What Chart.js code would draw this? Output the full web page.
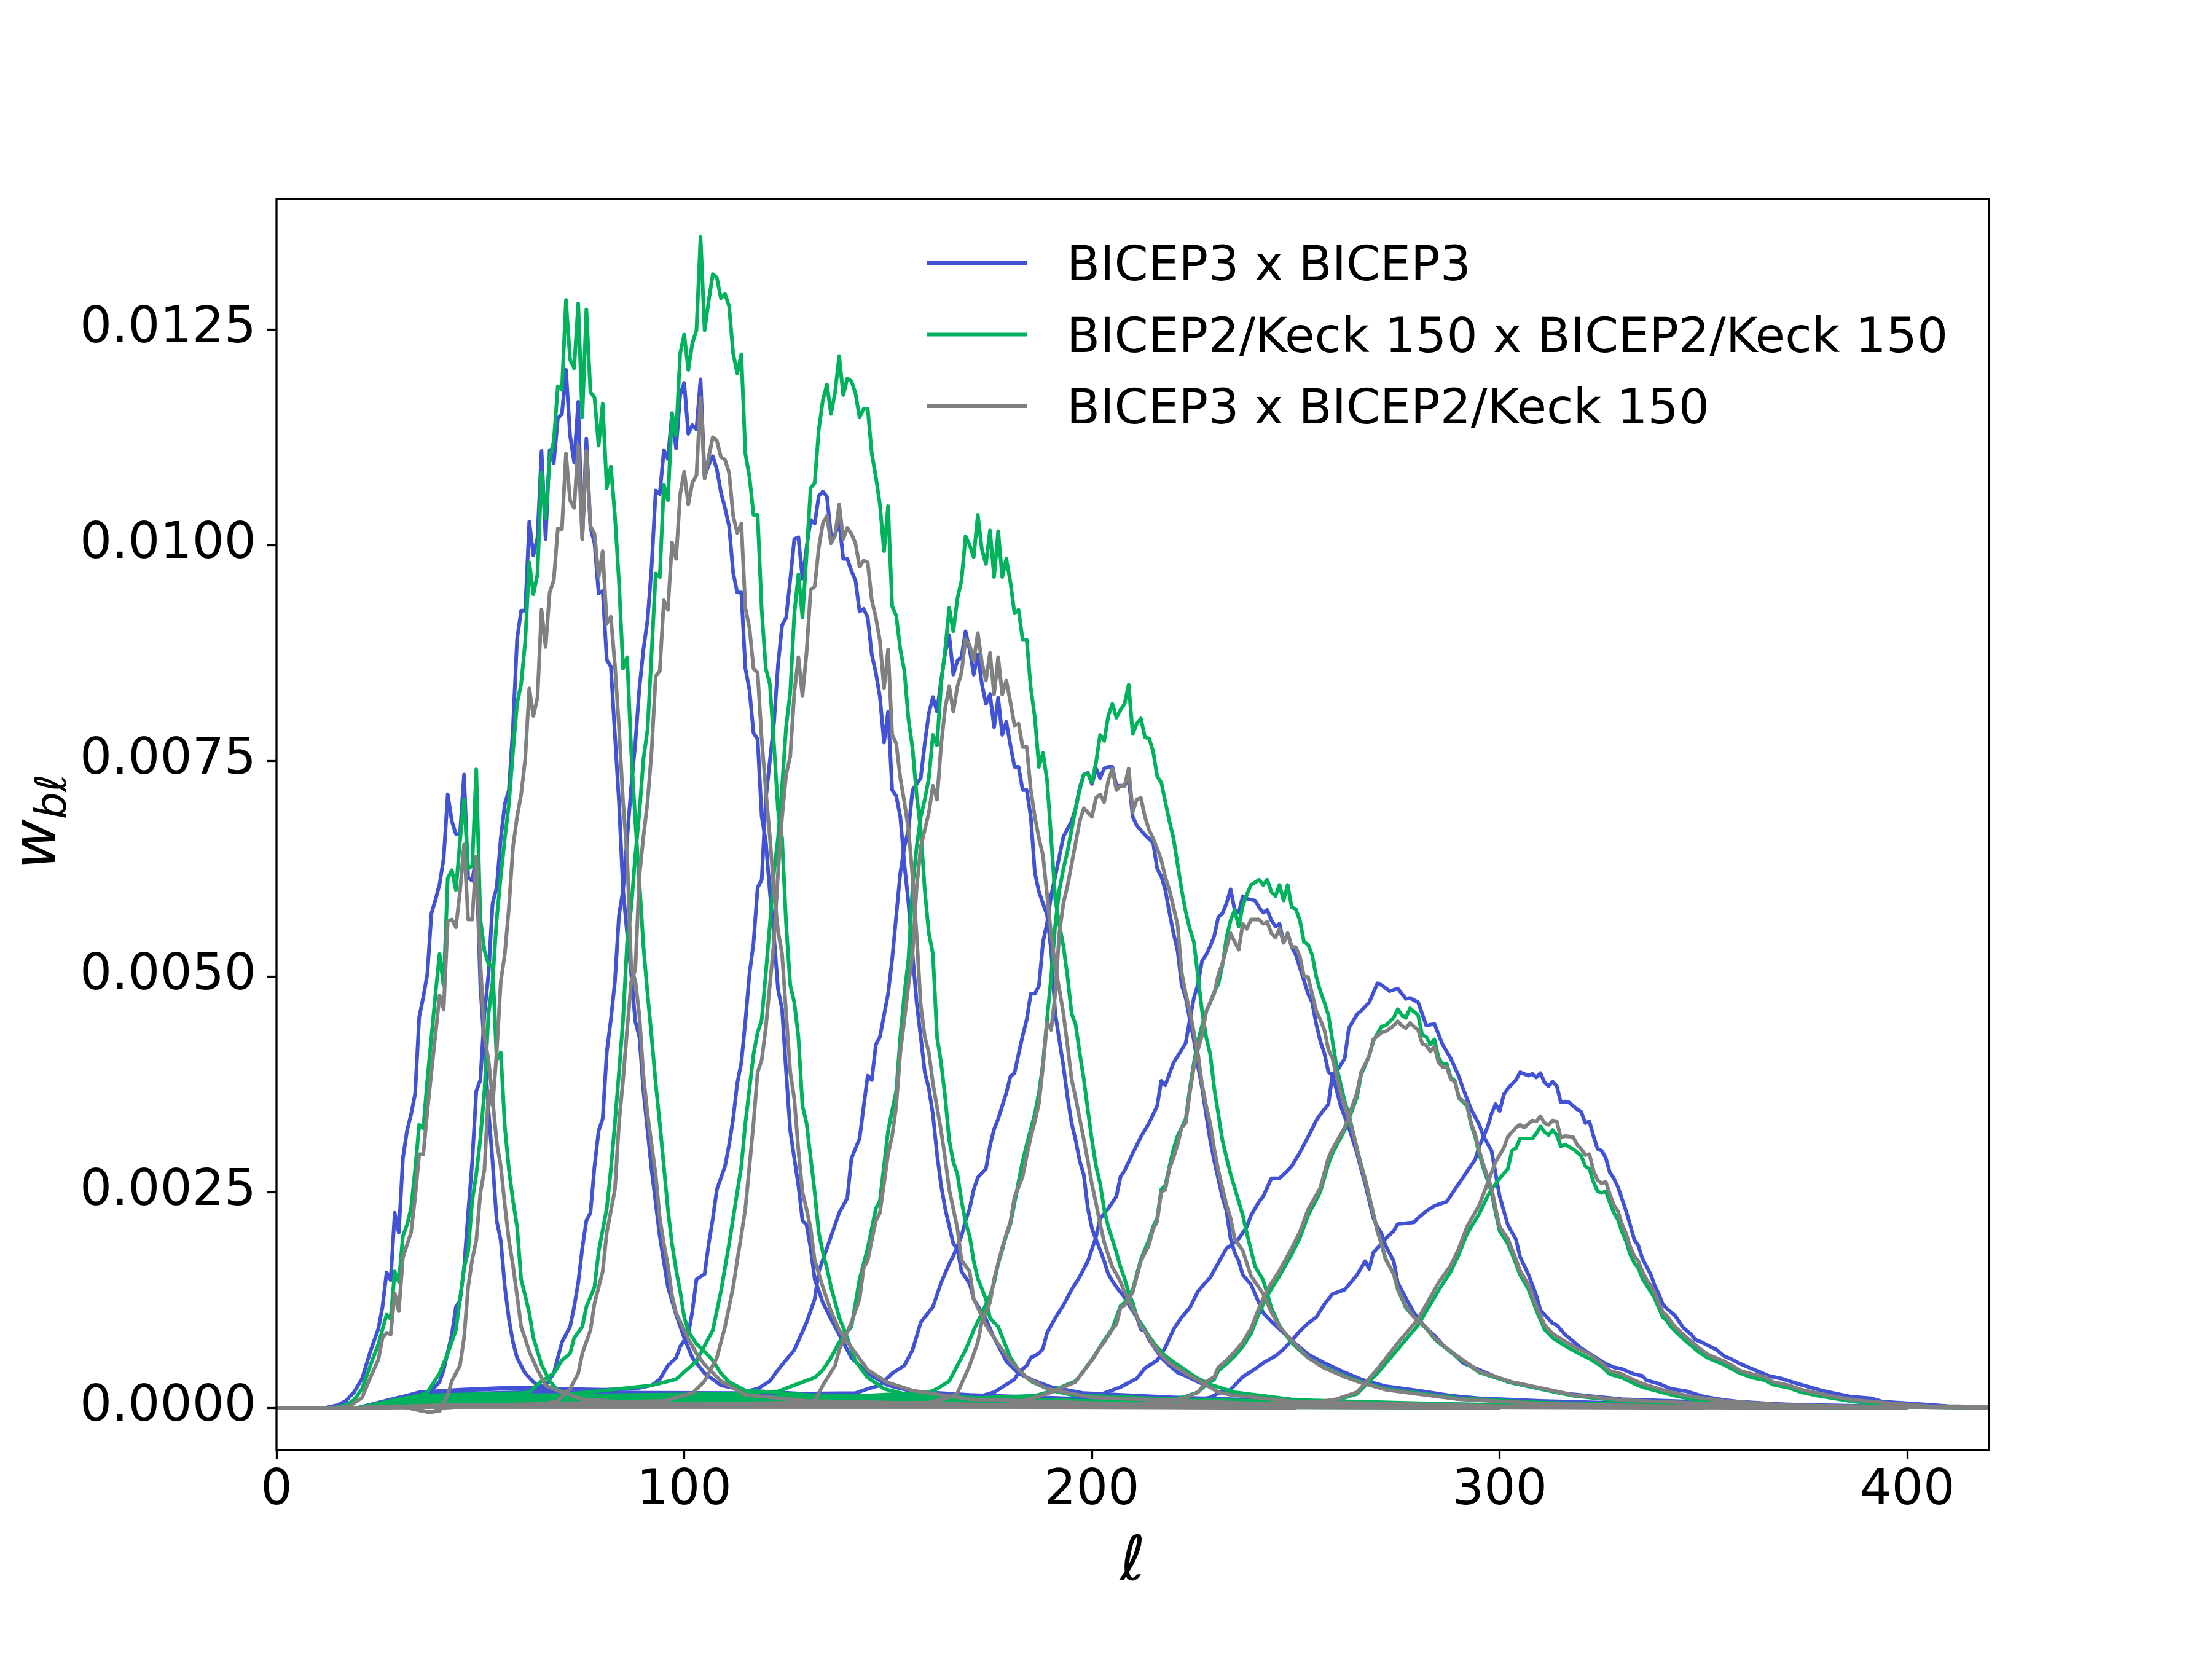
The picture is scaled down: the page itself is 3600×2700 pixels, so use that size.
<!DOCTYPE html>
<html>
<head>
<meta charset="utf-8">
<title>Bandpower window functions</title>
<script src="https://cdn.jsdelivr.net/npm/chart.js@4.4.1/dist/chart.umd.min.js"></script>
<style>
  html, body { margin: 0; padding: 0; background: #fff; }
  canvas { display: block; }
</style>
</head>
<body>
<canvas id="windowChart" width="3600" height="2700"></canvas>
<script>
// Window functions w_bl, in units of 1e-4.
// One list of [ell, w] pairs per ell bin (9 bins) for each spectrum.

// BICEP3 x BICEP3
const b3xb3 = [
  [[0,0],[12,0],[15,0.3],[17,0.8],[19,1.8],[21,3.4],[23,6.5],[25,9.2],[26,11.7],[27,15.7],[28,14.8],[29,22.6],[30,20.3],[31,28.9],[32,32.1],[33,34],[34,36.4],[35,45.3],[36,47.6],[37,50.3],[38,57.3],[39,58.9],[40,60.7],[41,63.7],[42,71.1],[43,68],[44,66.5],[45,66.5],[46,73.4],[47,61.4],[48,61.1],[49,63.9],[50,48.9],[51,41.7],[52,34.4],[53,28.5],[54,21.7],[55,19.4],[56,14],[57,10.3],[58,7.6],[59,5.8],[61,4],[63,3],[65,2.2],[69,1.6],[80,1.2],[100,0.8],[130,0.5],[180,0.2],[250,0]],
  [[0,0],[20,0],[25,0.6],[30,1.2],[35,1.7],[38,2],[40,3],[41,4.4],[43,8.5],[44,11.7],[45,12.4],[46,16.2],[47,22.6],[48,28.5],[49,36.7],[50,38],[51,45.7],[52,50.3],[53,58.5],[54,60.3],[55,66],[56,70],[57,71.6],[58,78.9],[59,89.1],[60,92.4],[61,92.4],[62,102.7],[63,98.8],[64,100.8],[65,110.9],[66,100.7],[67,111],[68,109.5],[69,114.7],[70,115.2],[71,120.3],[72,112.7],[73,109.6],[74,116.6],[75,100.7],[76,112.3],[77,102],[78,100.2],[79,94.4],[80,94.7],[81,86.7],[82,85.9],[83,78],[84,70.2],[85,60],[86,55],[87,50.3],[88,44.8],[89,43],[90,36.7],[92,27.6],[94,19.9],[96,14],[98,10.8],[100,8.1],[102,5.8],[105,4],[109,2.6],[115,2],[130,1.6],[160,1.2],[200,0.8],[250,0.4],[320,0.1],[400,0]],
  [[0,0],[20,0],[28,0.9],[35,1.8],[45,2.1],[55,2.3],[62,2.3],[66,2.6],[68,4],[70,7.6],[72,9.4],[73,11.7],[74,14.5],[75,18.5],[76,21.7],[77,22.6],[78,28],[79,32.1],[80,33.5],[81,41.2],[82,45],[83,49.4],[84,57.1],[85,60],[86,66],[87,72],[88,77],[89,83.4],[90,87.9],[91,91.3],[92,97.5],[93,106.3],[94,105.9],[95,111],[96,110],[97,115.3],[98,111.2],[99,117.4],[100,118.8],[101,112.9],[102,113.9],[103,113.4],[104,119.2],[105,107.9],[106,109.3],[107,110.3],[108,108.8],[109,106.1],[110,104.3],[111,102.2],[112,96.8],[113,94.5],[114,94.5],[115,85.7],[116,83.2],[117,78.2],[118,77.5],[119,68.5],[120,65.7],[121,59.8],[122,54.8],[123,48.5],[124,46.2],[125,38.9],[126,32.1],[127,28.9],[128,25.8],[129,21.7],[130,21.2],[131,18.5],[132,14.9],[134,12.2],[136,10.3],[138,8.5],[141,5.8],[145,4],[150,2.6],[156,1.9],[170,1.5],[200,1],[250,0.5],[320,0.2],[400,0]],
  [[0,0],[20,0],[30,1.1],[40,1.9],[55,2.2],[70,2.2],[80,2.1],[88,2.2],[92,2.6],[94,3.3],[96,4.9],[98,5.8],[99,7.1],[101,8.5],[102,11.2],[103,14.9],[105,15.5],[106,19],[107,21.9],[108,25.3],[110,28],[111,30.5],[112,33.5],[113,37.6],[114,40],[115,44.8],[116,50.3],[117,53.9],[118,60.3],[119,61.2],[120,70.5],[121,75],[122,79.3],[123,86.1],[124,90.7],[125,91.6],[126,96],[127,100.7],[128,100.9],[129,96.1],[130,99.7],[131,102.9],[132,102.5],[133,105.7],[134,106.2],[135,105.6],[136,101.1],[137,101.2],[138,102.7],[139,98.4],[140,98.4],[141,97],[142,95.9],[143,92.3],[144,92.6],[145,91.6],[146,87.3],[147,85.2],[148,82.4],[149,77.1],[150,80.7],[151,71.6],[152,70.9],[153,68.5],[154,63],[155,58.5],[156,52.6],[157,47],[158,43],[159,38.9],[160,37],[161,34],[162,29.4],[163,25.8],[164,23.1],[166,19],[167,18.5],[168,15.8],[170,14.4],[171,12.6],[174,10.3],[176,8.1],[179,5.4],[182,4],[186,3.1],[190,2.4],[198,1.7],[220,1.2],[260,0.6],[320,0.2],[400,0]],
  [[0,0],[20,0],[35,1.5],[60,1.8],[113,1.7],[118,2.2],[121,3.1],[123,4.4],[127,6.7],[130,9.9],[132,12.6],[133,15.8],[135,18.5],[138,22.6],[140,24.3],[141,28.9],[143,31.2],[144,34.9],[145,38.5],[146,38],[147,42.1],[148,43],[150,48],[151,52],[152,57],[153,62],[154,65],[155,67],[156,71.6],[158,73],[159,77],[160,80.5],[161,82.4],[162,80.7],[163,84.3],[164,87.5],[165,89.5],[166,85],[167,86.6],[168,87],[169,90],[170,87.9],[171,85],[172,87.3],[173,83.9],[174,81.6],[175,82.7],[176,78.9],[177,82.3],[178,78],[179,79.5],[180,76.8],[181,74.3],[182,74.3],[183,71.6],[184,71.6],[185,68.5],[186,62],[187,59.8],[189,57.1],[190,53],[191,45.7],[192,42.6],[193,39.6],[194,36],[195,33],[196,31],[197,28.6],[198,27],[199,23.1],[200,20.8],[201,19.5],[202,18.3],[203,17],[204,15.5],[205,14.7],[206,14],[207,13.4],[208,12.8],[209,12],[210,11.2],[211,10.5],[212,9.1],[213,8.9],[214,7.9],[215,7.2],[217,5.8],[219,4.9],[221,4.1],[223,3.7],[226,3],[229,2.4],[231,1.8],[234,1.7],[240,1],[260,0.6],[300,0.3],[400,0]],
  [[0,0],[20,0],[35,1.3],[80,1.5],[120,1.6],[142,1.7],[145,2.2],[148,2.6],[151,4],[154,4.9],[156,6.7],[158,9.9],[161,11.7],[163,14.5],[165,16.7],[166,17.6],[168,19.9],[169,21.7],[170,23.1],[171,25.3],[172,26.7],[174,27.7],[175,30.4],[176,32.3],[177,33.5],[178,35],[179,36.5],[180,38.4],[181,38.8],[182,41],[183,43.1],[184,45],[185,48],[186,48],[187,48.9],[188,54],[189,56.2],[190,59.4],[191,61.6],[193,66.2],[195,68],[196,69.5],[197,71.9],[198,73.4],[199,73.6],[200,72.3],[201,74.1],[202,73],[203,74.1],[204,74.3],[205,74.3],[206,72.1],[207,72.1],[208,72.1],[209,73],[210,68.5],[211,67.5],[213,66.4],[215,65.5],[216,62.5],[217,61.6],[218,60],[219,57.4],[220,55],[221,53],[222,49],[223,47.5],[224,45],[225,42.6],[226,39.6],[227,37.1],[228,34],[229,31],[230,28.6],[231,26.5],[232,24.4],[233,22.8],[234,19.6],[235,18],[236,17],[237,15.4],[239,14.3],[241,12.1],[242,11],[244,10],[249,7.8],[253,6.2],[257,5.2],[262,4.1],[266,3.3],[272,2.5],[280,2],[288,1.4],[295,1.1],[310,0.8],[340,0.4],[400,0]],
  [[0,0],[20,0],[35,1.1],[100,1.3],[150,1.3],[173,1.4],[176,1.8],[178,2.4],[181,3.3],[182,4.1],[184,4.9],[185,5.8],[187,6.3],[188,6.9],[189,8.7],[191,10.4],[193,11.9],[195,13.7],[197,15.2],[199,17],[201,19.8],[202,21.9],[204,23.1],[206,24.5],[207,26.8],[208,27.5],[210,29.5],[212,31.4],[214,33],[216,35],[217,37.9],[218,37.4],[220,40],[222,41.5],[223,42.3],[224,45],[225,47.5],[226,49.1],[227,51.8],[228,52.5],[229,53.5],[230,54.7],[231,56.9],[232,57.3],[233,58.5],[234,60.1],[235,57.7],[236,57.4],[237,59.3],[238,59],[239,58.9],[240,58.8],[241,58],[242,57.4],[243,57.7],[244,56.5],[245,55.8],[246,56.1],[247,53.9],[248,55],[249,53.4],[250,52.5],[251,51],[252,49.5],[253,48],[254,47],[255,44.5],[256,42.5],[257,41.1],[258,38.9],[259,38.6],[260,36.8],[261,35],[262,33.7],[263,32.5],[264,31],[265,29.5],[266,27.7],[267,26],[268,24],[269,22],[270,21],[271,20.2],[272,18.8],[274,17],[275,14.5],[277,12.7],[279,11],[282,9.2],[284,8.4],[286,7.3],[289,6.1],[291,5.2],[294,4.6],[298,3.8],[302,3],[307,2.5],[315,1.7],[330,1],[360,0.5],[400,0.1]],
  [[0,0],[20,0],[35,0.9],[100,1],[180,1],[198,0.9],[203,1.7],[207,2.4],[211,3.4],[213,4.6],[216,5.5],[218,7],[220,9.1],[222,10.5],[224,11.6],[226,13.5],[228,14.6],[229,15.1],[231,16.8],[233,18.5],[234,18.8],[236,19.6],[238,21],[239,22.3],[241,23.9],[242,24.5],[244,26.6],[246,26.6],[248,27.5],[249,28],[251,29.6],[253,31.4],[255,33.3],[256,34],[258,35.2],[259,38.7],[260,39],[262,40.5],[263,44],[265,45.6],[266,46],[268,47],[270,49.2],[271,49],[273,48.3],[275,48.6],[277,47.4],[278,47.5],[280,47],[282,44.3],[284,44.5],[286,42.1],[288,40.5],[290,38.4],[291,37],[293,34.6],[295,32.8],[296,31.5],[298,29.8],[300,24.5],[302,21.2],[304,19.5],[305,17.5],[307,15.5],[309,13],[310,11.3],[313,9.8],[314,9.6],[316,8.5],[318,7.7],[320,6.9],[323,6],[326,5.1],[328,4.7],[330,4.5],[333,3.9],[335,3.7],[336,3.2],[339,2.8],[342,2.2],[346,1.9],[350,1.3],[355,0.9],[359,0.7],[366,0.5],[373,0.3],[385,0.2],[420,0.1]],
  [[0,0],[20,0],[35,0.7],[100,0.8],[200,0.6],[218,0.6],[224,0.8],[229,1.2],[231,1.7],[234,2.1],[237,3.6],[240,4.5],[242,5.2],[245,6],[247,6.8],[249,7.8],[251,8.9],[253,9.8],[255,10.5],[257,12],[259,13.2],[262,13.7],[265,15.4],[267,17],[268,16.1],[269,18],[271,19],[272,19.6],[274,20.5],[275,21.3],[277,21.4],[279,21.5],[280,22],[282,22.8],[284,23.4],[287,23.9],[290,26],[292,27.4],[294,28.8],[295,30.3],[297,32.5],[298,34.1],[299,35.2],[300,34.4],[301,36.3],[302,37],[304,38],[305,38.9],[307,38.5],[308,38.7],[309,38.3],[310,38.8],[311,37.7],[312,37.3],[313,37.8],[314,37.3],[315,35.4],[316,35.5],[317,35.4],[318,35],[319,34.6],[320,34.3],[321,33],[322,33.2],[323,31.5],[324,30],[325,29.8],[326,29],[327,27.3],[328,26.6],[329,25.6],[330,24.2],[331,22.8],[332,21.2],[333,19.5],[334,18.8],[335,17.3],[336,16.4],[337,15.5],[338,14.2],[339,13.2],[340,12],[341,11.5],[342,11.1],[343,10.7],[344,10],[345,9.3],[347,8.5],[348,7.9],[350,7.5],[352,7],[353,6.8],[355,6],[357,5.6],[359,5.1],[361,4.7],[364,4.1],[366,3.7],[369,3.4],[373,2.8],[376,2.4],[379,2],[382,1.7],[386,1.3],[391,1.1],[394,0.7],[401,0.5],[410,0.2],[420,0.1]]
];

// BICEP2/Keck 150 x BICEP2/Keck 150
const bkxbk = [
  [[0,0],[14,0],[17,0.3],[19,0.9],[21,2.2],[23,4.9],[25,7.4],[27,10.8],[28,10.3],[29,15.8],[30,14.6],[31,19.9],[32,21.2],[33,23.1],[34,27.6],[35,32.8],[36,32.4],[37,38],[38,43],[39,48],[40,52.6],[41,48.9],[42,61.4],[43,62.3],[44,60],[45,65.7],[46,70.5],[47,62.5],[48,62.8],[49,74],[50,56.6],[51,53],[52,51.4],[53,51.2],[54,40.3],[55,41.2],[56,32.6],[57,27.6],[58,24],[59,21],[60,14.9],[61,13],[62,11],[63,8.1],[65,5],[67,3.1],[69,2],[75,1.3],[90,0.9],[120,0.6],[160,0.3],[220,0.1],[300,0]],
  [[0,0],[20,0],[25,0.5],[30,1],[35,1.4],[37,1.8],[40,4],[42,6.3],[44,9],[45,12.6],[46,16.2],[47,18.1],[48,24],[49,27.1],[50,31.2],[51,36.7],[52,45.7],[53,49.4],[54,56.6],[55,61.6],[56,66],[57,70],[58,76.1],[59,81.6],[60,83.9],[61,88.8],[62,98],[63,94.3],[64,96.6],[65,108.4],[66,103.1],[67,110.2],[68,112],[69,118.4],[70,118],[71,128.4],[72,121.5],[73,120.5],[74,128],[75,114.8],[76,127.3],[77,117.7],[78,117.1],[79,111.5],[80,116.4],[81,106.6],[82,109.1],[83,103.4],[84,95.7],[85,85.7],[86,87],[87,76.1],[88,68],[89,61],[90,53.5],[91,48],[92,43],[93,37.6],[94,33],[95,28],[96,23],[97,19],[98,16],[99,13.5],[100,10.5],[101,8.9],[103,7.4],[105,6.5],[107,5.5],[109,4],[111,3],[115,2],[130,1.5],[160,1.1],[200,0.7],[260,0.3],[330,0.1],[400,0]],
  [[0,0],[20,0],[28,0.7],[35,1.4],[50,1.6],[60,1.7],[62,1.8],[65,3.1],[68,4],[70,5.5],[72,6.3],[73,8.1],[75,9.4],[76,11.7],[78,14],[79,18.1],[81,23.1],[82,27.6],[83,33],[84,38.9],[85,45],[86,54],[87,58],[88,64],[89,69],[90,75.2],[91,78.6],[92,87.5],[93,96.7],[94,96.3],[95,107],[96,105.2],[97,115.2],[98,112.7],[99,122.2],[100,124.4],[101,120.3],[102,123.4],[103,124.9],[104,135.7],[105,124.9],[106,128.3],[107,131.4],[108,131],[109,128.6],[110,129.1],[111,127.7],[112,122.2],[113,119.9],[114,122.1],[115,110.6],[116,107.9],[117,103.5],[118,103.5],[119,92.5],[120,85.7],[121,83.9],[122,77],[123,69.3],[124,66],[125,56],[126,49],[127,47],[128,43],[129,35],[130,33],[131,29],[132,25],[133,20.3],[134,18],[135,16.2],[136,14],[138,10.5],[140,8.1],[142,5.4],[145,3.5],[149,2.2],[155,1.5],[180,1],[230,0.5],[300,0.2],[400,0]],
  [[0,0],[20,0],[30,0.7],[45,1.4],[70,1.5],[92,2.6],[98,3.3],[103,5.4],[107,9],[109,13.5],[111,19],[112,22],[113,25],[114,28],[115,33],[116,37],[117,41],[118,43.5],[119,45],[120,50.3],[121,56],[122,62],[123,66],[124,72],[125,79],[126,82.9],[127,92],[128,96.6],[129,91.6],[130,98.8],[131,106.6],[132,107.2],[133,113.4],[134,116.8],[135,118.6],[136,115.2],[137,117.7],[138,121.9],[139,117.4],[140,119.3],[141,119],[142,117.6],[143,114.8],[144,115.8],[145,115.8],[146,110.6],[147,107.9],[148,104.7],[149,99.3],[150,104.5],[151,92.9],[152,91.8],[153,87.9],[154,85.4],[155,79.8],[156,76.4],[157,71],[158,67],[159,60],[160,55],[161,52.6],[162,43],[163,40],[164,36],[165,31],[166,28.5],[167,27.1],[168,24],[169,21.5],[170,19.9],[171,17],[172,15],[174,12.6],[175,10.4],[177,9.4],[180,5.8],[182,4.4],[185,3.1],[190,2],[195,1.5],[220,1],[270,0.5],[330,0.2],[400,0]],
  [[0,0],[20,0],[35,1.1],[70,1.4],[110,1.6],[123,1.9],[128,2.8],[132,3.5],[134,4.4],[136,5.8],[138,7.6],[141,9.4],[142,12.1],[143,14.9],[145,18.5],[147,23.1],[148,24],[150,32.1],[151,34.5],[152,36.7],[153,43],[154,48],[155,52],[156,60.3],[157,65],[158,68.5],[159,70.5],[160,73],[161,78],[162,76.8],[163,83.9],[164,87.9],[165,92.7],[166,90],[167,93.8],[168,95.9],[169,101],[170,100],[171,98.6],[172,103.5],[173,99.5],[174,97.8],[175,101.7],[176,96.3],[177,101.6],[178,96.3],[179,98.4],[180,95.7],[181,92.1],[182,92.5],[183,89],[184,89],[185,83.4],[186,80],[187,74.3],[188,75.9],[189,72.7],[190,66],[191,59],[192,56],[193,53.5],[194,50],[195,45.7],[196,44.4],[197,41.1],[198,38.1],[199,34.5],[200,31],[201,28],[202,26],[203,23],[204,21],[205,19.5],[206,18],[207,16.3],[208,15],[209,13.3],[210,12.2],[211,10.5],[213,9.1],[214,8.3],[216,7],[218,6],[220,5.3],[222,4.7],[224,4],[226,3.4],[229,2.7],[235,1.8],[250,0.9],[290,0.4],[400,0]],
  [[0,0],[20,0],[35,1],[90,1.2],[140,1.3],[160,1.8],[162,2.2],[165,3.1],[167,4.9],[169,6.7],[171,9],[173,11],[175,13],[176,14.5],[177,16.7],[178,18.3],[179,20],[180,21.3],[181,23.7],[182,26.2],[183,28.6],[184,30.5],[185,32.3],[186,34.1],[187,36.5],[188,40],[189,45.1],[190,50],[191,56],[192,60],[193,62.5],[194,64.5],[195,67],[196,69.5],[197,71.6],[198,73.4],[199,73.5],[200,72.5],[201,74.8],[202,78],[203,77.3],[204,80.2],[205,81.6],[206,80],[207,80.9],[208,81.6],[209,83.8],[210,78.1],[211,79.3],[212,79.9],[213,77.7],[214,77.6],[215,76.1],[216,73.2],[217,72.5],[218,70.2],[219,68],[220,66],[221,63],[222,60],[223,57.5],[224,55.5],[225,54],[226,50],[227,46],[228,43],[229,41],[230,37],[231,34],[232,31],[233,29],[234,27.1],[235,25.5],[237,22.3],[238,20.2],[240,16.4],[242,14.8],[244,11.6],[246,9.5],[249,7.5],[253,5.8],[257,4.7],[262,3.7],[266,3],[272,2.2],[280,1.7],[290,1.1],[310,0.6],[340,0.3],[400,0]],
  [[0,0],[20,0],[35,0.9],[100,1.1],[170,1.1],[186,1.4],[190,1.9],[193,2.5],[196,3.1],[198,4.3],[200,5.6],[202,7.1],[203,7.8],[205,9.2],[207,11.8],[208,12.2],[210,13.7],[211,15.5],[212,17.2],[214,19.5],[215,21],[216,22],[217,25.3],[218,25.8],[219,28],[220,30],[221,31.5],[222,32.5],[223,33.5],[224,37],[225,40],[226,42.5],[227,44.3],[228,45.9],[229,47],[230,48.2],[231,49.1],[232,51.3],[233,54.5],[234,56.5],[235,57.7],[236,55.8],[237,58.2],[238,59.5],[239,60.6],[240,60.9],[241,61.2],[242,60.6],[243,61.2],[244,59.8],[245,59.3],[246,60.6],[247,58.8],[248,60.6],[249,58],[250,57.8],[251,56.5],[252,54],[253,53.7],[254,52.5],[255,50],[256,48.3],[257,47],[258,45.5],[259,42.5],[260,39.5],[261,37.5],[262,35.5],[263,34],[264,32],[265,30],[266,28.2],[267,26.5],[268,24.5],[269,22.5],[270,20.5],[271,19],[272,17.3],[274,15.5],[275,13.7],[277,11.6],[279,10.5],[282,9.2],[284,8],[286,7.2],[289,6.1],[292,5.1],[295,4.1],[299,3.5],[303,2.9],[311,2.1],[318,1.4],[330,0.8],[360,0.3],[400,0]],
  [[0,0],[20,0],[35,0.7],[150,0.8],[200,0.7],[218,0.8],[223,1.3],[226,1.8],[228,2.7],[230,3.3],[231,4.3],[233,5.1],[235,6],[237,7.1],[239,8.6],[241,11],[243,13],[246,15.3],[249,17.8],[251,19.7],[253,22.3],[254,23.2],[256,25],[258,28.3],[259,29.5],[262,32.2],[265,36],[266,38.6],[268,40.8],[269,42.5],[271,44.2],[272,44.3],[274,45.2],[275,46.2],[276,45.5],[277,45.2],[278,46.3],[280,45.5],[281,43.2],[282,43],[283,42.1],[284,42.7],[285,40.6],[286,39.8],[287,39.9],[288,38.3],[289,37.9],[290,35.9],[292,35],[293,32.8],[294,31.4],[295,29.4],[296,27.8],[298,25],[299,22.6],[300,20.5],[302,19],[304,16.7],[305,15.4],[307,13.8],[309,11.3],[311,9.1],[313,8.1],[316,7.2],[319,6.4],[322,5.7],[325,4.8],[327,3.9],[330,3.5],[333,2.8],[335,2.4],[339,1.9],[343,1.4],[347,1],[355,0.6],[370,0.2],[400,0.1],[420,0]],
  [[0,0],[20,0],[35,0.6],[150,0.7],[220,0.6],[250,0.4],[260,0.9],[265,1.6],[270,4],[275,6.8],[280,9.6],[285,13.6],[288,15.8],[290,17.8],[292,20.2],[295,22.5],[297,24.5],[298,25.3],[300,26.6],[302,27.7],[303,29.8],[304,30.1],[305,31.2],[307,31.2],[308,31.2],[309,31.8],[310,32.6],[311,32],[312,31.6],[313,32.2],[314,31.6],[315,30.3],[316,30.5],[318,30],[319,29.6],[320,29.2],[321,28],[322,27.7],[323,26.2],[324,25.1],[325,24.9],[326,25.1],[327,23.8],[328,22.6],[329,21.8],[330,20.4],[331,19.3],[332,17.8],[333,16.8],[334,16.2],[335,15],[336,14.2],[337,13.5],[338,12.7],[339,11.6],[340,10.5],[341,10.1],[342,9.4],[343,8.9],[345,8],[346,7.6],[348,6.8],[349,6.4],[351,5.8],[353,5.4],[355,5],[357,4.5],[359,4],[362,3.5],[365,3.2],[367,2.7],[371,2.3],[374,1.8],[378,1.4],[382,1.1],[387,0.7],[394,0.4],[405,0.1],[420,0]]
];

// BICEP3 x BICEP2/Keck 150
const b3xbk = [
  [[0,0],[15,0],[18,0.2],[21,1.2],[23,3.5],[25,5.6],[26,8.1],[27,8.7],[28,8.5],[29,13.3],[30,11.2],[31,17.4],[32,18.9],[33,20.3],[34,24.4],[35,29.4],[36,29.4],[37,34.4],[38,38.9],[39,43.3],[40,47.8],[41,46.2],[42,56.4],[43,56.6],[44,55.7],[45,59.8],[46,65.3],[47,56.6],[48,56.6],[49,63.9],[50,51.6],[51,43],[52,40.3],[53,35.8],[54,30.8],[55,28],[56,23.5],[57,19.4],[58,16.5],[59,13],[60,9.4],[61,8],[62,6.5],[64,4.4],[66,2.6],[69,2],[75,1],[90,0.5],[120,0.3],[180,0.1],[250,0]],
  [[0,0],[20,0],[30,0.2],[33,0],[37,-0.5],[40,-0.4],[42,1.5],[43,3.1],[45,4.9],[46,8.1],[47,14],[48,17.2],[49,19.4],[50,24.9],[51,27.6],[52,36.7],[53,35],[54,41.2],[55,49.4],[56,52.6],[57,58],[58,65],[59,68.5],[60,71.1],[61,75.2],[62,83.4],[63,80.2],[64,82.3],[65,92.5],[66,88.2],[67,94.5],[68,95.9],[69,101.9],[70,101.8],[71,110.6],[72,105.2],[73,104.3],[74,111.5],[75,100.7],[76,110.9],[77,102.2],[78,101.3],[79,96.3],[80,99.3],[81,90.9],[82,91.7],[83,86.1],[84,78.9],[85,70.2],[86,64],[87,51],[88,49.5],[89,45.5],[90,38.5],[91,34],[92,30.5],[93,27],[94,22],[95,19],[96,16.5],[97,13],[98,11],[99,10],[101,8],[103,6.3],[105,5],[109,3.1],[115,1.5],[130,0.8],[170,0.4],[230,0.1],[300,0]],
  [[0,0],[20,0],[30,0.2],[35,-0.3],[38,-0.5],[41,0],[50,0.3],[65,0.4],[69,0.8],[72,2.2],[74,4],[75,6.3],[77,9],[78,12.1],[80,15.8],[81,20.3],[83,25.3],[84,33],[85,38],[86,43.9],[87,49.4],[88,50.8],[89,61.6],[90,66.2],[91,70.2],[92,76.1],[93,84.8],[94,85.4],[95,93.6],[96,92.5],[97,100.3],[98,98.4],[99,105.9],[100,108.5],[101,104.7],[102,107.2],[103,108.1],[104,117.1],[105,107.7],[106,110.2],[107,112.5],[108,112.1],[109,110.2],[110,109.9],[111,108.4],[112,103.4],[113,101.4],[114,102.5],[115,92.7],[116,90.4],[117,85.7],[118,85.2],[119,77.5],[120,71.6],[121,66.2],[122,60],[123,55.3],[124,52.6],[125,45.7],[126,38.9],[127,35.8],[128,29.9],[129,25],[130,23],[131,20.8],[132,17.1],[134,14],[136,11.2],[138,9],[141,7],[145,4.4],[150,2.9],[156,2],[170,1],[210,0.4],[280,0.1],[350,0]],
  [[0,0],[20,0],[35,0.2],[60,0.4],[95,0.8],[102,1.7],[105,3.1],[108,5.8],[110,9.4],[112,14],[113,17.1],[114,20],[115,23.1],[117,33],[118,38.9],[119,40.3],[120,44],[121,49],[122,54],[123,62],[124,68.5],[125,73.4],[126,75.5],[127,82.9],[128,87],[129,82.5],[130,87.5],[131,94.8],[132,95.2],[133,99.7],[134,102.5],[135,103.4],[136,100.2],[137,101.1],[138,104.7],[139,100.7],[140,102],[141,101.3],[142,100.2],[143,97.5],[144,98.2],[145,98],[146,93.6],[147,91.6],[148,88.9],[149,83.4],[150,87.9],[151,78],[152,77],[153,73],[154,70.2],[155,67],[156,61.6],[157,54.8],[158,46.7],[159,43],[160,41.2],[161,37.6],[163,32.1],[164,28.9],[165,25.3],[167,20.8],[168,17.1],[170,15.8],[171,12.6],[174,9.6],[177,7.4],[180,5.4],[184,3.5],[189,2.2],[200,1.2],[240,0.5],[300,0.1],[380,0]],
  [[0,0],[20,0],[40,0.3],[100,0.4],[128,0.6],[132,0.8],[134,2.6],[137,4.9],[138,6.7],[141,9.9],[143,12.6],[144,16.2],[145,17.1],[147,21.7],[148,22.6],[150,29.4],[151,31.5],[152,35],[153,41.2],[154,45],[155,49],[156,52.6],[157,60.3],[158,65],[159,67],[160,69],[161,72.1],[162,70.5],[163,76.8],[164,81.1],[165,83.6],[166,80.7],[167,83.6],[168,85.2],[169,89.1],[170,88.4],[171,86.6],[172,89.8],[173,86.4],[174,84.3],[175,87.5],[176,82.7],[177,87],[178,82.7],[179,84.3],[180,81.8],[181,79.1],[182,79.3],[183,76.6],[184,76.6],[185,71.6],[186,68.5],[187,66],[188,64],[189,59.4],[190,54.8],[191,51.2],[192,48.5],[193,45.7],[194,42],[195,38.1],[196,35.9],[197,33.5],[198,31.1],[199,28.6],[200,25.9],[201,23.7],[202,21.3],[203,19.2],[204,17.7],[205,16.3],[206,15.5],[207,14.6],[208,13.4],[209,12.6],[210,11.4],[211,10.7],[212,9.4],[213,8.9],[215,7.3],[217,6.1],[219,5.2],[221,4.6],[223,4],[226,3.2],[229,2.4],[231,1.8],[234,1.5],[250,0.7],[300,0.2],[400,0]],
  [[0,0],[20,0],[40,0.2],[120,0.3],[160,0.6],[165,1.2],[167,1.7],[170,4.9],[172,7.6],[173,10],[175,12.2],[176,14.9],[178,18.6],[180,21.6],[181,24.4],[183,26.8],[184,29.2],[185,31.4],[186,33.2],[187,35.3],[188,39.6],[189,44.7],[190,43.8],[191,48],[192,55],[193,58.5],[194,60.5],[195,63],[196,65.5],[197,68],[198,69.5],[199,69],[200,68.5],[201,70.7],[202,71.1],[203,70.2],[204,72.7],[205,74.1],[206,71.6],[207,72.1],[208,72.1],[209,74.1],[210,69.1],[211,70.5],[212,70.7],[213,68.5],[214,67],[215,66],[216,64.8],[217,63.5],[218,61.5],[219,60],[220,58],[221,56],[222,50.5],[223,48],[224,46],[225,43.5],[226,41],[227,37.5],[228,35],[229,33],[230,30],[231,27.5],[232,25.5],[233,23.5],[234,22],[235,19.6],[237,18.2],[239,15.3],[242,13.2],[244,11.1],[246,9.4],[249,7.8],[253,5.8],[257,4.6],[262,3.6],[266,2.9],[272,2.1],[280,1.6],[290,1],[310,0.5],[340,0.2],[400,0]],
  [[0,0],[20,0],[40,0.1],[150,0.2],[180,0.4],[186,1.2],[190,1.8],[193,2.4],[196,3],[198,4.3],[200,5.5],[202,7],[203,7.6],[205,9.1],[206,9.7],[207,11.6],[208,11.9],[210,13.4],[211,15.2],[212,17],[214,18.9],[215,20.7],[216,21.6],[217,25],[218,25.3],[219,27.7],[220,29],[221,30.5],[222,32.5],[223,33],[224,36.5],[225,39.5],[226,41.5],[227,43.2],[228,45.9],[229,47],[230,48],[231,50.2],[232,51.5],[233,53.3],[234,55],[235,54],[236,53.1],[237,56.1],[238,55.5],[239,56.6],[240,56.6],[241,56.6],[242,56.1],[243,56.3],[244,55],[245,54.5],[246,55.5],[247,53.9],[248,55],[249,53.4],[250,53.4],[251,52.3],[252,50],[253,49.9],[254,48],[255,46],[256,45],[257,43.8],[258,41.5],[259,40.5],[260,38.4],[261,36.5],[262,35],[263,33.6],[264,32],[265,30],[266,28],[267,26.5],[268,24.5],[269,22.5],[270,20.5],[271,19],[272,17.2],[274,15.6],[275,13.8],[277,11.8],[279,10.5],[282,9.3],[284,8.1],[286,7.3],[289,6.2],[292,5.2],[295,4.2],[299,3.6],[303,3],[311,2.2],[318,1.5],[330,0.9],[360,0.3],[400,0]],
  [[0,0],[20,0],[40,0.1],[200,0.1],[218,0.6],[223,1.2],[226,1.8],[228,3],[230,3.6],[231,4.7],[233,5.5],[235,6.5],[237,7.6],[239,9.2],[241,11.6],[243,13.7],[246,15.9],[249,18.5],[251,20.4],[253,23],[254,23.8],[256,25.5],[258,29],[259,30],[262,32.5],[265,36.5],[266,38.9],[268,40.8],[269,42.7],[271,43.5],[272,43.6],[274,44.3],[275,44.8],[276,44.3],[277,44],[278,44.6],[280,43.8],[281,42.2],[282,42],[283,41.3],[284,41.9],[285,40],[286,39.5],[287,39.5],[288,38.1],[289,37.8],[290,36],[292,35.2],[293,33],[294,31.7],[295,29.8],[296,28.2],[298,25.5],[299,23.1],[300,21],[302,19.6],[304,17.2],[305,15.9],[307,14.3],[309,11.8],[311,9.6],[313,8.6],[316,7.7],[319,6.9],[322,6.2],[325,5.2],[327,4.3],[330,3.9],[333,3.2],[335,2.8],[339,2.2],[343,1.7],[347,1.3],[355,0.8],[370,0.3],[400,0.1],[420,0]],
  [[0,0],[20,0],[40,0.1],[240,0.1],[250,0.3],[260,1],[265,1.8],[270,4.5],[275,7.5],[280,10.3],[285,14.5],[288,16.5],[290,18.5],[292,21],[295,23.5],[297,26],[299,28.5],[301,30.1],[302,31.4],[304,32.5],[305,32.8],[306,32.5],[308,33.3],[309,33.2],[310,33.8],[311,33],[312,32.8],[313,33.3],[314,33.2],[315,31.3],[316,31.5],[318,31.4],[319,30.5],[320,30],[321,29.3],[322,29.4],[323,27.5],[324,26.4],[325,26],[326,26.2],[327,24.8],[328,23.5],[329,22.8],[330,21.3],[331,20.2],[332,18.7],[333,17.6],[334,17],[335,15.8],[336,14.9],[337,14.2],[338,13.4],[339,12.2],[340,11.1],[341,10.7],[342,10],[343,9.4],[345,8.5],[346,8.1],[348,7.3],[349,6.9],[351,6.2],[353,5.8],[355,5.4],[357,4.9],[359,4.3],[362,3.9],[365,3.6],[367,3],[371,2.6],[374,2.1],[378,1.7],[382,1.3],[387,0.9],[394,0.6],[405,0.2],[420,0.1]]
];

const seriesNames = ['BICEP3 x BICEP3', 'BICEP2/Keck 150 x BICEP2/Keck 150', 'BICEP3 x BICEP2/Keck 150'];
const xTicks = [0, 100, 200, 300, 400];
const yTicks = [0, 0.0025, 0.005, 0.0075, 0.01, 0.0125];
const wUnit = 1e-4;

const colors = ['#4152d5', '#00b25c', '#808080'];
const fontFamily = "'DejaVu Sans', sans-serif";

// one line per (spectrum, bin); gray is drawn on top, blue at the bottom
const datasets = [];
[b3xb3, bkxbk, b3xbk].forEach((bins, s) => {
    bins.forEach(bin => {
        datasets.push({
            label: seriesNames[s],
            data: bin.map(p => ({ x: p[0], y: p[1] * wUnit })),
            borderColor: colors[s],
            borderWidth: 6,
            borderJoinStyle: 'round',
            pointRadius: 0,
            tension: 0,
            fill: false,
            order: 2 - s
        });
    });
});

// frame, legend and axis titles
const decorations = {
    id: 'decorations',
    afterDraw(chart) {
        const { ctx, chartArea } = chart;
        ctx.save();

        ctx.strokeStyle = '#000';
        ctx.lineWidth = 3.3;
        ctx.strokeRect(chartArea.left, chartArea.top,
            chartArea.right - chartArea.left, chartArea.bottom - chartArea.top);

        // legend, no frame
        ctx.font = '79px ' + fontFamily;
        ctx.textAlign = 'left';
        ctx.textBaseline = 'alphabetic';
        seriesNames.forEach((name, i) => {
            const y = 428 + i * 116.5;
            ctx.strokeStyle = colors[i];
            ctx.lineWidth = 6;
            ctx.beginPath();
            ctx.moveTo(1508, y);
            ctx.lineTo(1672, y);
            ctx.stroke();
            ctx.fillStyle = '#000';
            ctx.fillText(name, 1736, y + 28);
        });

        // x title: ell
        ctx.fillStyle = '#000';
        ctx.font = 'italic 100px ' + fontFamily;
        ctx.textAlign = 'center';
        ctx.fillText('\u2113', (chartArea.left + chartArea.right) / 2, 2571);

        // y title: w_{b ell}
        ctx.translate(90, 1415);
        ctx.rotate(-Math.PI / 2);
        ctx.textAlign = 'left';
        ctx.font = 'italic 100px ' + fontFamily;
        ctx.fillText('w', 0, 0);
        const wWidth = ctx.measureText('w').width;
        ctx.font = 'italic 70px ' + fontFamily;
        ctx.fillText('b\u2113', wWidth, 17);

        ctx.restore();
    }
};

const tickGrid = {
    display: true,
    drawOnChartArea: false,
    drawTicks: true,
    tickLength: 15,
    tickWidth: 3.3,
    tickColor: '#000'
};

new Chart(document.getElementById('windowChart').getContext('2d'), {
    type: 'line',
    data: { datasets },
    options: {
        responsive: false,
        devicePixelRatio: 1,
        animation: false,
        parsing: false,
        layout: { padding: { left: 0, top: 324, right: 363, bottom: 0 } },
        plugins: {
            legend: { display: false },
            tooltip: { enabled: false }
        },
        scales: {
            x: {
                type: 'linear',
                min: 0,
                max: 420,
                afterBuildTicks: axis => { axis.ticks = xTicks.map(v => ({ value: v })); },
                afterFit: axis => { axis.height = 340; },
                grid: tickGrid,
                border: { display: false },
                ticks: {
                    color: '#000',
                    font: { family: fontFamily, size: 81 },
                    padding: 3,
                    maxRotation: 0,
                    callback: v => String(v)
                }
            },
            y: {
                type: 'linear',
                min: -0.00049,
                max: 0.01401,
                afterBuildTicks: axis => { axis.ticks = yTicks.map(v => ({ value: v })); },
                afterFit: axis => { axis.width = 450; },
                grid: tickGrid,
                border: { display: false },
                ticks: {
                    color: '#000',
                    font: { family: fontFamily, size: 82 },
                    padding: 18,
                    callback: v => v.toFixed(4)
                }
            }
        }
    },
    plugins: [decorations]
});
</script>
</body>
</html>
